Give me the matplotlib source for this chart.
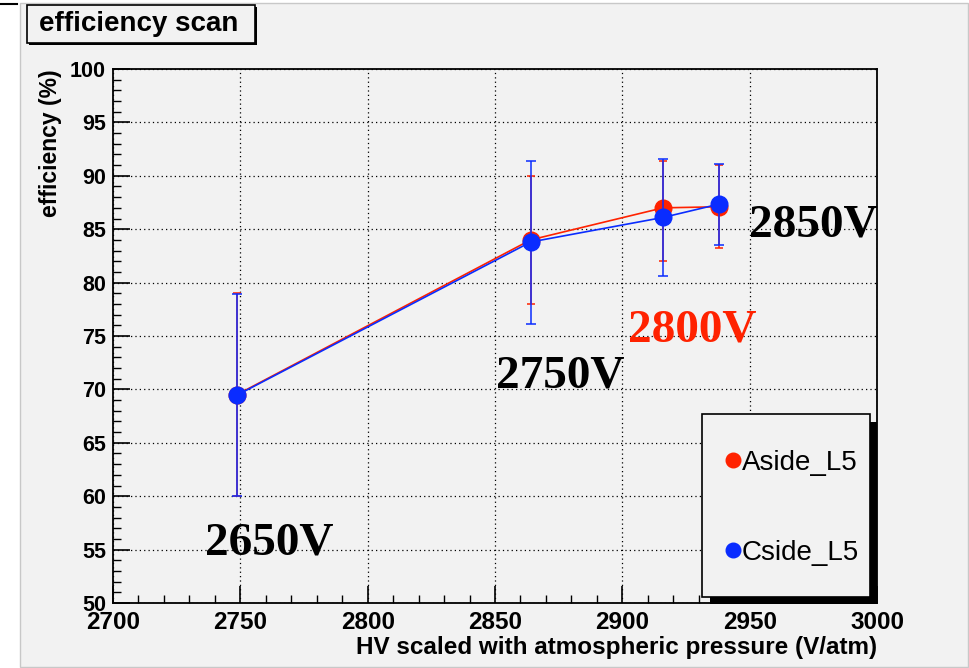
import matplotlib
matplotlib.use("Agg")
import matplotlib.pyplot as plt
from matplotlib.patches import Rectangle
from matplotlib.lines import Line2D
from matplotlib.ticker import MultipleLocator
import numpy as np

# HV points scaled with atmospheric pressure (V/atm)
hv_scaled = [2748.6, 2864.0, 2916.0, 2938.0]

# A side, layer 5
eff_a = [69.5, 84.0, 87.0, 87.1]
err_a_lo = [9.5, 6.0, 5.0, 3.85]
err_a_hi = [9.5, 6.0, 4.4, 3.95]

# C side, layer 5
eff_c = [69.45, 83.8, 86.1, 87.35]
err_c_lo = [9.45, 7.7, 5.5, 3.85]
err_c_hi = [9.5, 7.6, 5.45, 3.75]

# nominal HV settings written next to the points
hv_labels = ["2650V", "2750V", "2800V", "2850V"]
hv_label_x = [2761.5, 2875.7, 2927.5, 2975.1]
hv_label_y = [54.5, 70.15, 74.5, 84.3]
hv_label_col = ["black", "black", "#ff2200", "black"]

RED = "#ff2200"
BLUE = "#0a2cff"
BG = "#f2f2f2"

W, H = 970, 668
fig = plt.figure(figsize=(W / 100, H / 100), dpi=100)
fig.patch.set_facecolor("white")


def px_rect(x0, y0, x1, y1, **kw):
    # rectangle given in pixel coords, origin top-left
    return Rectangle((x0 / W, 1 - y1 / H), (x1 - x0) / W, (y1 - y0) / H,
                     transform=fig.transFigure, **kw)


# canvas
fig.add_artist(px_rect(20, 3, 968, 667, facecolor=BG, edgecolor="#c8c8c8", lw=1, zorder=0))
fig.add_artist(Line2D([0, 17 / W], [1 - 4 / H, 1 - 4 / H], transform=fig.transFigure,
                      color="black", lw=1.5))

ax = fig.add_axes([113 / W, 1 - 603 / H, 764 / W, 534 / H])
ax.set_facecolor(BG)

ax.errorbar(hv_scaled, eff_a, yerr=[err_a_lo, err_a_hi], color=RED, marker="o",
            markersize=12, lw=1.2, elinewidth=1.1, capsize=3, capthick=1.1, zorder=3)
ax.errorbar(hv_scaled, eff_c, yerr=[err_c_lo, err_c_hi], color=BLUE, marker="o",
            markersize=12, lw=1.2, elinewidth=1.1, capsize=3.5, capthick=1.1, zorder=4)

for t, x, y, c in zip(hv_labels, hv_label_x, hv_label_y, hv_label_col):
    ax.text(x, y, t, ha="center", va="baseline", color=c, fontsize=34,
            fontweight="bold", family="Liberation Serif", zorder=5)

ax.set_xlim(2700, 3000)
ax.set_ylim(50, 100)
ax.xaxis.set_major_locator(MultipleLocator(50))
ax.xaxis.set_minor_locator(MultipleLocator(10))
ax.yaxis.set_major_locator(MultipleLocator(5))
ax.yaxis.set_minor_locator(MultipleLocator(1))
ax.grid(True, which="major", color="black", linestyle=(0, (1, 2.5)), lw=0.9)
ax.set_axisbelow(True)

ax.tick_params(which="both", direction="in", top=False, right=False, color="black")
ax.tick_params(which="major", length=12, width=1.2)
ax.tick_params(which="minor", length=6, width=1.0)
ax.tick_params(axis="x", pad=6, labelsize=17.5)
ax.tick_params(axis="y", pad=5, labelsize=15.5)
for lab in ax.get_xticklabels() + ax.get_yticklabels():
    lab.set_fontweight("bold")
    lab.set_family("Liberation Sans")
for sp in ax.spines.values():
    sp.set_linewidth(1.3)

ax.set_xlabel("HV scaled with atmospheric pressure (V/atm)", loc="right",
              fontsize=17.5, fontweight="bold", family="Liberation Sans", labelpad=1)
ax.set_ylabel("efficiency (%)", loc="top", fontsize=16.5, fontweight="bold",
              family="Liberation Sans", labelpad=6)

# legend box with drop shadow
fig.add_artist(px_rect(710, 422, 877, 604, facecolor="black", edgecolor="none", zorder=6))
fig.add_artist(px_rect(702, 414, 870, 597, facecolor=BG, edgecolor="black", lw=1.2, zorder=7))
handles = [Line2D([], [], ls="none", marker="o", markersize=10.5, color=RED),
           Line2D([], [], ls="none", marker="o", markersize=10.5, color=BLUE)]
leg = ax.legend(handles, ["Aside_L5", "Cside_L5"], loc="upper left",
                bbox_to_anchor=(711 / W, 1 - 436 / H),
                bbox_transform=fig.transFigure, frameon=False, borderpad=0,
                prop={"family": "Liberation Sans", "size": 20},
                handlelength=0.6, handletextpad=0.0, labelspacing=2.3, numpoints=1)
leg.remove()
leg.set_zorder(8)
fig.add_artist(leg)

# title box with drop shadow
fig.add_artist(px_rect(29, 7, 257, 45, facecolor="black", edgecolor="none", zorder=6))
fig.add_artist(px_rect(27, 5, 255, 43, facecolor=BG, edgecolor="black", lw=1.2, zorder=7))
fig.text(139 / W, 1 - 24 / H, "efficiency scan", ha="center", va="center",
         fontsize=20, fontweight="bold", family="Liberation Sans", zorder=8)

fig.savefig("out.png", dpi=100)
